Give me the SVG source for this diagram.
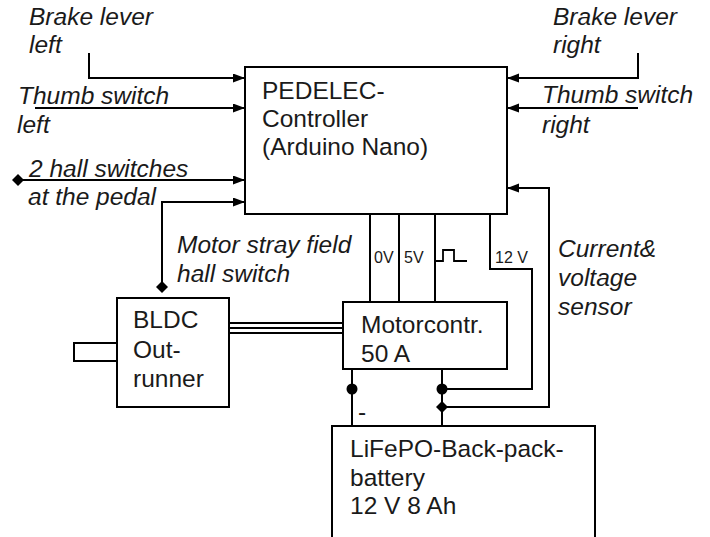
<svg xmlns="http://www.w3.org/2000/svg" width="710" height="537" viewBox="0 0 710 537">
  <style>
    .box { fill: #fff; stroke: #000; stroke-width: 2; }
    .ln { fill: none; stroke: #000; stroke-width: 2; }
    .thin { fill: none; stroke: #000; stroke-width: 1.8; }
    .t { font-family: "Liberation Sans", Arial, sans-serif; font-size: 24.5px; fill: #1a1a1a; }
    .it { font-family: "Liberation Sans", Arial, sans-serif; font-size: 24.5px; font-style: italic; fill: #1a1a1a; }
    .s { font-family: "Liberation Sans", Arial, sans-serif; font-size: 16px; fill: #1a1a1a; }
  </style>
  <defs>
    <marker id="arr" markerUnits="userSpaceOnUse" markerWidth="13" markerHeight="10" refX="12" refY="4.5" orient="auto">
      <path d="M0,0 L12,4.5 L0,9 Z" fill="#000"/>
    </marker>
  </defs>
  <rect width="710" height="537" fill="#fff"/>

  <g id="labels">
    <text class="it" x="29" y="25">Brake lever</text>
    <text class="it" x="29" y="53">left</text>
    <text class="it" x="18" y="104">Thumb switch</text>
    <text class="it" x="17" y="133">left</text>
    <text class="it" x="29" y="177">2 hall switches</text>
    <text class="it" x="28" y="205">at the pedal</text>
    <text class="it" x="553" y="25">Brake lever</text>
    <text class="it" x="553" y="53">right</text>
    <text class="it" x="542" y="103">Thumb switch</text>
    <text class="it" x="542" y="133">right</text>
    <text class="it" x="177" y="253">Motor stray field</text>
    <text class="it" x="177" y="282">hall switch</text>
    <text class="it" x="558" y="257">Current&amp;</text>
    <text class="it" x="558" y="286">voltage</text>
    <text class="it" x="558" y="315">sensor</text>
  </g>

  <g id="connectors">
    <polyline class="ln" points="89,53 89,78 245,78" marker-end="url(#arr)"/>
    <line class="ln" x1="35" y1="108" x2="245" y2="108" marker-end="url(#arr)"/>
    <line class="ln" x1="18" y1="180" x2="245" y2="180" marker-end="url(#arr)"/>
    <polygon points="18,174 24,180 18,186 12,180" fill="#000"/>
    <polyline class="ln" points="162,287 162,202 245,202" marker-end="url(#arr)"/>
    <polygon points="162,281 168,287 162,293 156,287" fill="#000"/>
    <polyline class="ln" points="638,53 638,78 507,78" marker-end="url(#arr)"/>
    <line class="ln" x1="638" y1="108" x2="507" y2="108" marker-end="url(#arr)"/>
    <polyline class="ln" points="442,407 549,407 549,188 507,188" marker-end="url(#arr)"/>
    <polyline class="ln" points="442,389 532,389 532,269 490,269 490,214"/>
    <line class="ln" x1="370" y1="214" x2="370" y2="302"/>
    <line class="ln" x1="399" y1="214" x2="399" y2="302"/>
    <line class="ln" x1="435" y1="214" x2="435" y2="302"/>
    <path class="thin" d="M436 261 H443 V250 H454 V261 H467"/>
    <text class="s" x="374" y="263">0V</text>
    <text class="s" x="404" y="263">5V</text>
    <text class="s" x="495" y="263">12 V</text>
    <line class="ln" x1="229" y1="323" x2="343" y2="323"/>
    <line class="ln" x1="229" y1="328" x2="343" y2="328"/>
    <line class="ln" x1="229" y1="333" x2="343" y2="333"/>
    <line class="ln" x1="352" y1="369" x2="352" y2="426"/>
    <line class="ln" x1="442" y1="369" x2="442" y2="426"/>
    <circle cx="352" cy="389" r="5.5" fill="#000"/>
    <circle cx="442" cy="389" r="5.5" fill="#000"/>
    <polygon points="442,401 448,407 442,413 436,407" fill="#000"/>
    <text class="t" x="358" y="420">-</text>
  </g>

  <g id="controller">
    <rect class="box" x="245" y="67" width="262" height="147"/>
    <text class="t" x="262" y="99">PEDELEC-</text>
    <text class="t" x="262" y="127">Controller</text>
    <text class="t" x="262" y="155">(Arduino Nano)</text>
  </g>

  <g id="motor">
    <rect class="box" x="74" y="343" width="43" height="18"/>
    <rect class="box" x="117" y="298" width="112" height="109"/>
    <text class="t" x="133" y="328">BLDC</text>
    <text class="t" x="133" y="358">Out-</text>
    <text class="t" x="133" y="387">runner</text>
  </g>

  <g id="motorcontroller">
    <rect class="box" x="343" y="302" width="164" height="67"/>
    <text class="t" x="361" y="333">Motorcontr.</text>
    <text class="t" x="361" y="362">50 A</text>
  </g>

  <g id="battery">
    <rect class="box" x="332" y="426" width="263" height="130"/>
    <text class="t" x="350" y="457">LiFePO-Back-pack-</text>
    <text class="t" x="350" y="486">battery</text>
    <text class="t" x="350" y="514">12 V 8 Ah</text>
  </g>
</svg>
